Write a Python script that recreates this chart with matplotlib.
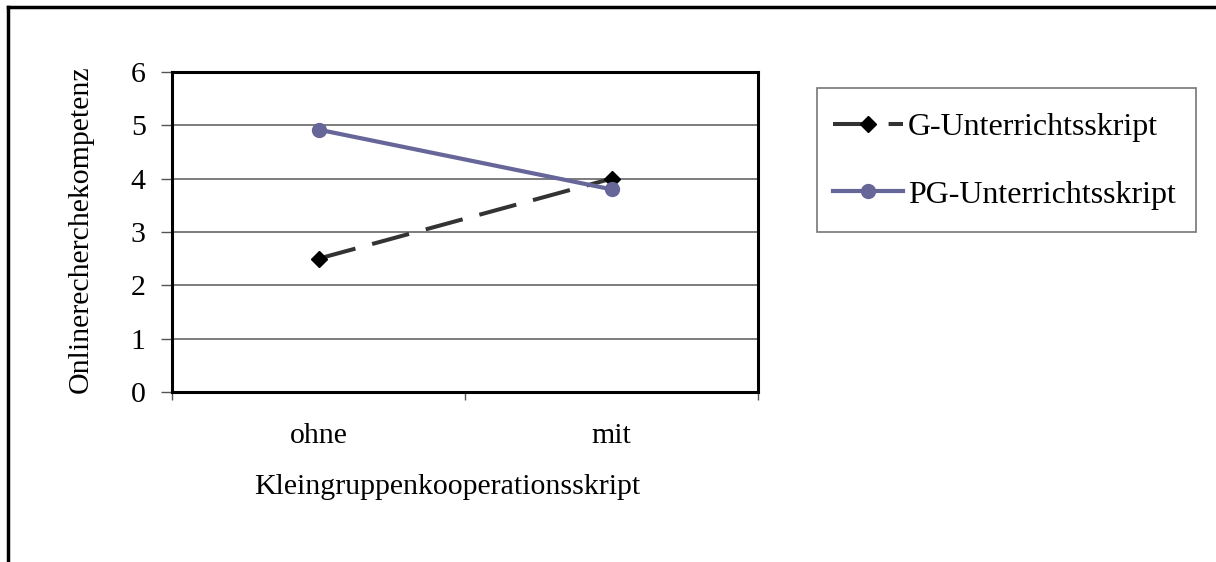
import matplotlib
matplotlib.use('Agg')
import matplotlib.pyplot as plt
from matplotlib.lines import Line2D
from matplotlib.patches import Rectangle

plt.rcParams['font.family'] = ['Liberation Serif', 'DejaVu Serif']

categories = ['ohne', 'mit']
g_script = [2.5, 4.0]
pg_script = [4.92, 3.8]
y_ticks = [0, 1, 2, 3, 4, 5, 6]

W, H = 1216, 562
fig = plt.figure(figsize=(W / 100, H / 100), dpi=100)
ax = fig.add_axes([172 / W, 170 / H, 586 / W, 320 / H])

x = [0.5, 1.5]
ax.plot(x, g_script, color='#333333', linewidth=2.9, linestyle=(0, (9.5, 4.3)),
        marker='D', markersize=8, markerfacecolor='black', markeredgecolor='black',
        label='G-Unterrichtsskript', zorder=3)
ax.plot(x, pg_script, color='#666699', linewidth=3, marker='o', markersize=10,
        label='PG-Unterrichtsskript', zorder=3)

ax.set_xlim(0, 2)
ax.set_ylim(0, 6)
ax.set_yticks(y_ticks)
ax.set_xticks([0, 1, 2])
ax.set_xticklabels([])
ax.set_xticks(x, minor=True)
ax.set_xticklabels(categories, minor=True, fontsize=21.5)
ax.tick_params(axis='x', which='minor', length=0, pad=22)
ax.tick_params(axis='x', which='major', direction='out', length=6, width=1, color='#555555')
ax.tick_params(axis='y', direction='out', length=8, width=1, color='#555555', labelsize=21.5, pad=11)

ax.yaxis.grid(True, color='#666666', linewidth=1.2)
ax.set_axisbelow(True)
for s in ax.spines.values():
    s.set_linewidth(2.2)
    s.set_color('black')

ax.set_ylabel('Onlinerecherchekompetenz', fontsize=21.5)
ax.yaxis.set_label_coords(-0.133, 0.51)
ax.set_xlabel('Kleingruppenkooperationsskript', fontsize=21.5)
ax.xaxis.set_label_coords(0.469, -0.255)

# legend: entries without frame, box drawn separately
leg = ax.legend(loc='center left', bbox_to_anchor=(833 / W, 1 - 161 / H), bbox_transform=fig.transFigure,
                fontsize=23, frameon=False, handlelength=2.2, handletextpad=0.15,
                labelspacing=1.2, borderpad=0, borderaxespad=0)
fig.add_artist(Rectangle((817 / W, 1 - 232 / H), (1196 - 817) / W, (232 - 88) / H,
                         transform=fig.transFigure, fill=False, edgecolor='#777777', linewidth=1.2))

# outer frame (only top and left edges visible)
fig.add_artist(Line2D([8 / W, 1], [555 / H, 555 / H], transform=fig.transFigure,
                      color='black', linewidth=2.5))
fig.add_artist(Line2D([8 / W, 8 / W], [0, 555 / H], transform=fig.transFigure,
                      color='black', linewidth=2.5))

plt.savefig('out.png', dpi=100)
plt.close(fig)
